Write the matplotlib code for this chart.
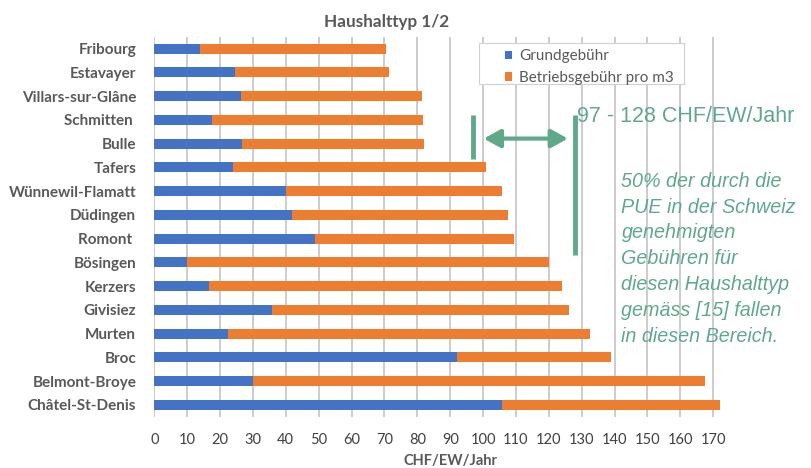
import matplotlib
matplotlib.use("Agg")
import matplotlib.pyplot as plt
from matplotlib.patches import Rectangle
import numpy as np

# data (CHF/EW/Jahr)
gemeinden = ["Fribourg", "Estavayer", "Villars-sur-Glâne", "Schmitten ", "Bulle", "Tafers",
             "Wünnewil-Flamatt", "Düdingen", "Romont ", "Bösingen", "Kerzers", "Givisiez",
             "Murten", "Broc", "Belmont-Broye", "Châtel-St-Denis"]
grundgebuehr = [13.8, 24.5, 26.3, 17.4, 26.8, 24.0, 40.0, 41.8, 48.9, 9.9, 16.7, 35.9,
                22.5, 92.0, 29.9, 105.9]
total = [70.4, 71.3, 81.3, 81.8, 82.0, 100.8, 105.9, 107.7, 109.3, 119.9, 124.0, 126.0,
         132.5, 138.8, 167.5, 172.0]
betriebsgebuehr = [t - g for t, g in zip(total, grundgebuehr)]
x_ticks = list(range(0, 171, 10))
bereich = (97, 128)

blue = "#4472C4"
orange = "#ED7D31"
green = "#5FA98A"
grey = "#595959"

plt.rcParams['font.family'] = ['Lato', 'DejaVu Sans']

W, H = 812, 468
fig = plt.figure(figsize=(W / 100, H / 100), dpi=100)
ax = fig.add_axes([154.3 / W, 51.3 / H, 591.8 / W, 380 / H])

y = np.arange(len(gemeinden))
ax.barh(y, grundgebuehr, height=0.42, color=blue, label="Grundgebühr", zorder=3)
ax.barh(y, betriebsgebuehr, left=grundgebuehr, height=0.42, color=orange,
        label="Betriebsgebühr pro m3", zorder=3)

ax.set_xlim(0, 180)
ax.set_ylim(len(gemeinden) - 0.5, -0.5)
ax.set_xticks(x_ticks)
ax.set_yticks(y)
ax.set_yticklabels(gemeinden, fontweight="bold", color=grey, fontsize=11)
ax.tick_params(axis="x", length=0, labelsize=10.5, labelcolor="#404040", pad=12)
ax.tick_params(axis="y", length=0, pad=13)
ax.grid(axis="x", color="#c8c8c8", linewidth=1.3, zorder=0)
for s in ax.spines.values():
    s.set_visible(False)
ax.set_xlabel("CHF/EW/Jahr", fontweight="bold", color=grey, fontsize=10.5, labelpad=5)

fig.text(387 / W, 1 - 22 / H, "Haushalttyp 1/2", ha="center", va="center",
         fontweight="bold", color=grey, fontsize=12.3)

# legend: white box drawn by hand, entries without frame
ax.add_patch(Rectangle((479 / W, 1 - 84 / H), (684 - 479) / W, (84 - 42.7) / H,
                       transform=fig.transFigure, facecolor="white", clip_on=False,
                       edgecolor="#d0d0d0", linewidth=0.8, zorder=4))
leg = ax.legend(loc="upper left", bbox_to_anchor=((500 - 154.3) / 591.8, 1 - 8 / 380),
                fontsize=11, frameon=False,
                handlelength=0.5, handleheight=0.5, handletextpad=0.45,
                borderpad=0.3, labelspacing=0.5, borderaxespad=0)
for t in leg.get_texts():
    t.set_color(grey)
leg.set_zorder(5)

# range annotation
ax.plot([bereich[0], bereich[0]], [2.8, 4.65], color=green, linewidth=3.5, zorder=6,
        solid_capstyle="butt")
ax.plot([bereich[1], bereich[1]], [2.8, 8.7], color=green, linewidth=3.5, zorder=6,
        solid_capstyle="butt")
ax.annotate("", xy=(100.2, 3.79), xytext=(125.8, 3.79),
            arrowprops=dict(arrowstyle="<|-|>,head_length=1.0,head_width=0.55",
                            color=green, lw=3, shrinkA=0, shrinkB=0), zorder=6)
ax.text(128.7, 2.87, f"{bereich[0]} - {bereich[1]} CHF/EW/Jahr", color=green,
        fontsize=15.5, family="Liberation Sans", va="center", ha="left", zorder=6,
        clip_on=False)

note = ("50% der durch die\nPUE in der Schweiz\ngenehmigten\nGebühren für\n"
        "diesen Haushalttyp\ngemäss [15] fallen\nin diesen Bereich.")
fig.text(621.5 / W, 1 - 172 / H, note, color=green, fontsize=14.2, style="italic",
         family="Liberation Sans", va="top", ha="left", linespacing=1.45)

fig.savefig("out.png", dpi=100)
